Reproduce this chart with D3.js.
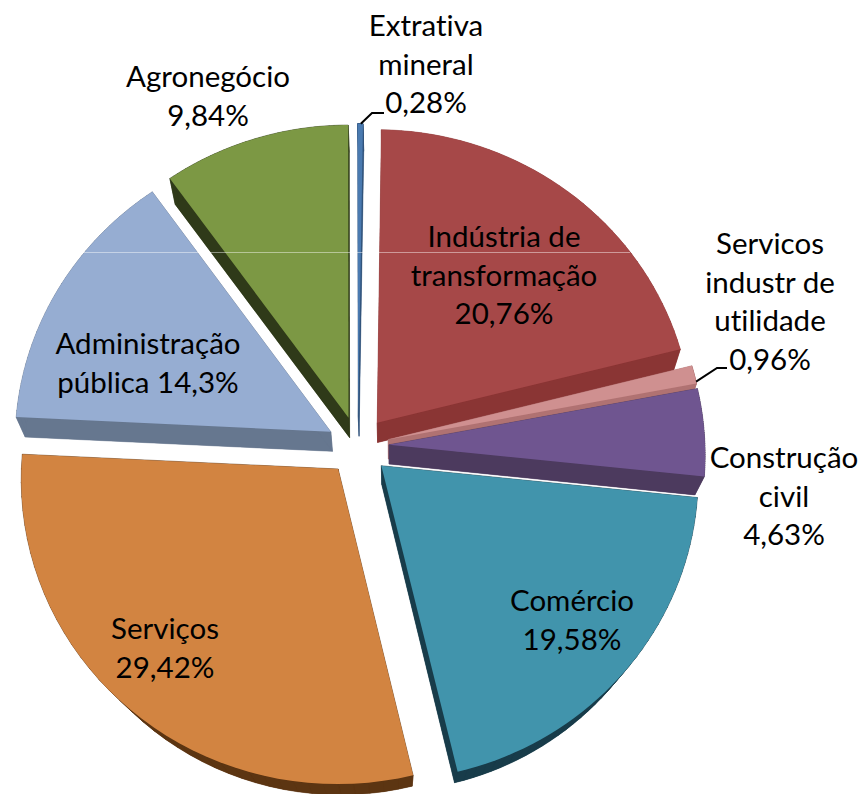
<!DOCTYPE html>
<html lang="en">

<head>
    <meta charset="UTF-8">
    <title>Pizza 3D</title>
    <script src="https://d3js.org/d3.v7.min.js"></script>
    <style>
        html, body { margin: 0; padding: 0; background: #fff; }
        svg { display: block; }
        text { font-family: Lato, "Noto Sans", sans-serif; font-size: 29.5px; fill: #000; font-variant-ligatures: none; }
    </style>
</head>

<body>
    <div id="chart"></div>

    <script>
        // chart data, clockwise from 12 o'clock
        const sectors = ["Extrativa mineral", "Indústria de transformação", "Servicos industr de utilidade",
            "Construção civil", "Comércio", "Serviços", "Administração pública", "Agronegócio"];
        const shares = [0.28, 20.76, 0.96, 4.63, 19.58, 29.42, 14.3, 9.84];
        const shareLabels = ["0,28%", "20,76%", "0,96%", "4,63%", "19,58%", "29,42%", "14,3%", "9,84%"];
        const topColors = ["#4a7ab0", "#a64848", "#cf9090", "#6f5590", "#4194ac", "#d28441", "#96add2", "#7c9844"];
        const sideColors = ["#33557c", "#8a3534", "#b07272", "#4c3a5e", "#183c4a", "#5c3512", "#66778f", "#2f3a19"];

        // label lines and where they sit (centre x, first baseline y)
        const labelLines = [
            ["Extrativa", "mineral", "0,28%"],
            ["Indústria de", "transformação", "20,76%"],
            ["Servicos", "industr de", "utilidade", "0,96%"],
            ["Construção", "civil", "4,63%"],
            ["Comércio", "19,58%"],
            ["Serviços", "29,42%"],
            ["Administração", "pública 14,3%"],
            ["Agronegócio", "9,84%"]
        ];
        const labelX = [426, 504, 770, 784, 572, 165, 148, 208];
        const labelY = [36, 247, 254, 468, 611, 639, 354, 87];
        const lineStep = 38.5;

        const width = 861, height = 794;
        const centerX = 358, centerY = 446;
        const radius = 316, explode = 31;
        const tilt = 0.961, depth = 0.0001;     // squash and perspective of the disc

        // how far a top face point drops to the bottom face, depends on its height on the page
        const wallX = d3.scaleLinear().domain([420, 640]).range([0.024, 0.05]).clamp(true);
        const wallY = d3.scaleLinear().domain([178, 772]).range([26, 11]);
        const wallMidX = 394;

        const svg = d3.select("#chart").append("svg")
            .attr("width", width)
            .attr("height", height)
            .attr("viewBox", `0 0 ${width} ${height}`);

        const pie = d3.pie().sort(null).startAngle(-0.002).endAngle(2 * Math.PI - 0.002);
        const arcs = pie(shares);

        // flat disc position to screen position
        function project([x, y]) {
            const f = 1 / (1 - depth * y);
            return [centerX + x * f, centerY + tilt * y * f];
        }

        // outline of one slice on the top face
        function sliceOutline(d) {
            const mid = (d.startAngle + d.endAngle) / 2;
            const [ox, oy] = d3.pointRadial(mid, explode);
            const steps = d3.range(0, 41).map(i => d.startAngle + (d.endAngle - d.startAngle) * i / 40);
            const rim = steps.map(a => {
                const [x, y] = d3.pointRadial(a, radius);
                return [x + ox, y + oy];
            });
            return [[ox, oy], ...rim].map(project);
        }

        const line = d3.line().curve(d3.curveLinearClosed);

        function sink(p) {
            return [p[0] + wallX(p[1]) * (wallMidX - p[0]), p[1] + wallY(p[1])];
        }

        const slices = svg.selectAll("g.slice")
            .data(arcs)
            .join("g")
            .attr("class", "slice");

        // side walls: one quad per outline edge, then the bottom face, then the top face
        slices.each(function (d) {
            const outline = sliceOutline(d);
            const g = d3.select(this);
            const color = sideColors[d.index];
            g.append("path")
                .attr("d", line(outline.map(sink)))
                .attr("fill", color);
            outline.forEach((p, i) => {
                const q = outline[(i + 1) % outline.length];
                g.append("path")
                    .attr("d", line([p, q, sink(q), sink(p)]))
                    .attr("fill", color)
                    .attr("stroke", color)
                    .attr("stroke-width", 0.5);
            });
        });

        slices.append("path")
            .attr("d", d => line(sliceOutline(d)))
            .attr("fill", d => topColors[d.index]);

        // faint horizontal hairline across the upper slices
        svg.append("line")
            .attr("x1", 82)
            .attr("x2", 630)
            .attr("y1", 252.5)
            .attr("y2", 252.5)
            .attr("stroke", "#fff")
            .attr("stroke-opacity", 0.45)
            .attr("stroke-width", 1);

        // leader lines for the two small slices
        const leaders = [
            { index: 0, bend: [372, 113], end: [384, 113], rimAt: 0.6 },
            { index: 2, bend: [717, 368], end: [727, 368], rimAt: 0.9 }
        ];

        svg.selectAll("path.leader")
            .data(leaders)
            .join("path")
            .attr("class", "leader")
            .attr("fill", "none")
            .attr("stroke", "#000")
            .attr("stroke-width", 2)
            .attr("d", d => {
                const rim = sliceOutline(arcs[d.index]).slice(1);
                const start = rim[Math.round(d.rimAt * (rim.length - 1))];
                return d3.line()([start, d.bend, d.end]);
            });

        // labels
        const labels = svg.selectAll("text.label")
            .data(labelLines)
            .join("text")
            .attr("class", "label")
            .attr("text-anchor", "middle")
            .attr("aria-label", (d, i) => `${sectors[i]} ${shareLabels[i]}`);

        labels.selectAll("tspan")
            .data((d, i) => d.map((t, j) => ({ t, x: labelX[i], y: labelY[i] + j * lineStep })))
            .join("tspan")
            .attr("x", d => d.x)
            .attr("y", d => d.y)
            .text(d => d.t);
    </script>
</body>

</html>
